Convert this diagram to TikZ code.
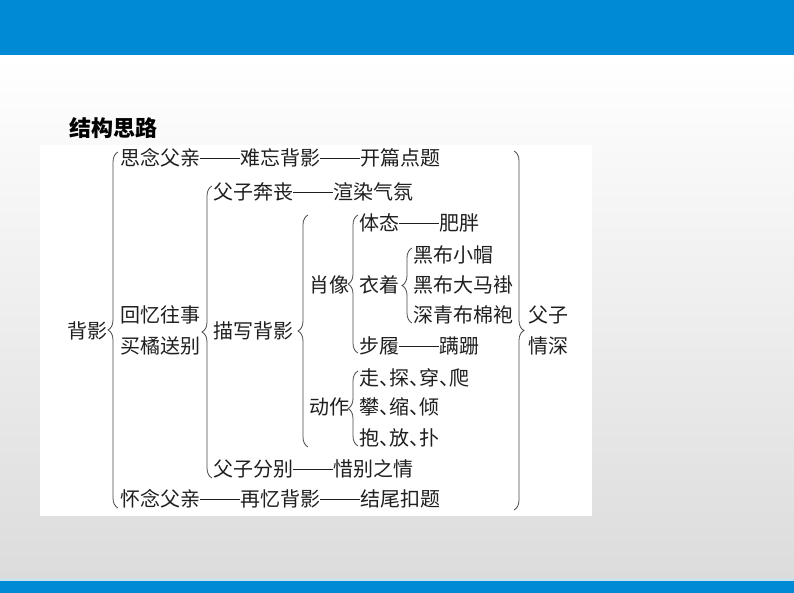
\documentclass[tikz,border=0pt]{standalone}
\usepackage{fontspec}
\newfontfamily\cjk{Noto Sans CJK SC}
\usetikzlibrary{decorations.pathreplacing}
\definecolor{barblue}{RGB}{0,138,214}
\definecolor{bggray}{RGB}{220,220,220}
\definecolor{paleline}{RGB}{205,226,236}
\newcommand\mydash{\rule[0.33em]{2em}{0.055em}}
\newcommand\dun{\makebox[0.5em][l]{、}}
\tikzset{
  txt/.style={anchor=west, inner sep=0pt, font=\cjk\fontsize{20}{24}\selectfont, text=black!88},
  titletxt/.style={anchor=west, inner sep=0pt, font=\cjk\bfseries\fontsize{22}{26}\selectfont, text=black},
  bracestyle/.style={draw=black!72, line width=0.8pt, decorate, decoration={brace, amplitude=10pt}},
}
\begin{document}
\begin{tikzpicture}[x=1pt,y=-1pt]
\useasboundingbox (0,0) rectangle (794,593);
% background
\fill[top color=white, bottom color=bggray] (0,55) rectangle (794,578);
\fill[barblue] (0,0) rectangle (794,55);
\fill[paleline] (0,578) rectangle (794,581);
\fill[barblue] (0,581) rectangle (794,593);
\fill[white] (40,145) rectangle (592,516);
% title
\node[titletxt] (title) at (69,128) {结构思路};
% texts
\node[txt] (bei) at (67,331) {背影};
\node[txt] (t1) at (120,158) {思念父亲\mydash 难忘背影\mydash 开篇点题};
\node[txt] (hy) at (120,315) {回忆往事};
\node[txt] (mj) at (120,346) {买橘送别};
\node[txt] (hn) at (120,499) {怀念父亲\mydash 再忆背影\mydash 结尾扣题};
\node[txt] (fb) at (213,192) {父子奔丧\mydash 渲染气氛};
\node[txt] (mx) at (213,331) {描写背影};
\node[txt] (ff) at (213,469) {父子分别\mydash 惜别之情};
\node[txt] (xx) at (309,285) {肖像};
\node[txt] (dz) at (309,407) {动作};
\node[txt] (tt) at (359,223) {体态\mydash 肥胖};
\node[txt] (yz) at (359,285) {衣着};
\node[txt] (bl) at (359,346) {步履\mydash 蹒跚};
\node[txt] (z1) at (359,378) {走\dun 探\dun 穿\dun 爬};
\node[txt] (z2) at (359,407) {攀\dun 缩\dun 倾};
\node[txt] (z3) at (359,438) {抱\dun 放\dun 扑};
\node[txt] (h1) at (413,255) {黑布小帽};
\node[txt] (h2) at (413,285) {黑布大马褂};
\node[txt] (h3) at (413,315) {深青布棉袍};
\node[txt] (fz) at (528,315) {父子};
\node[txt] (qs) at (528,346) {情深};
% brace end points
\coordinate (b1t) at (118,152); \coordinate (b1b) at (118,508);
\coordinate (b2t) at (212,186); \coordinate (b2b) at (212,478);
\coordinate (b3t) at (308,215); \coordinate (b3b) at (308,447);
\coordinate (b4t) at (358,215); \coordinate (b4b) at (358,353);
\coordinate (b5t) at (412,248); \coordinate (b5b) at (412,323);
\coordinate (b6t) at (358,371); \coordinate (b6b) at (358,446);
\coordinate (b7t) at (514,151); \coordinate (b7b) at (514,510);
% braces
\draw[bracestyle] (b1b) -- (b1t);
\draw[bracestyle] (b2b) -- (b2t);
\draw[bracestyle] (b3b) -- (b3t);
\draw[bracestyle] (b4b) -- (b4t);
\draw[bracestyle] (b5b) -- (b5t);
\draw[bracestyle] (b6b) -- (b6t);
\draw[bracestyle] (b7t) -- (b7b);
\end{tikzpicture}
\end{document}
